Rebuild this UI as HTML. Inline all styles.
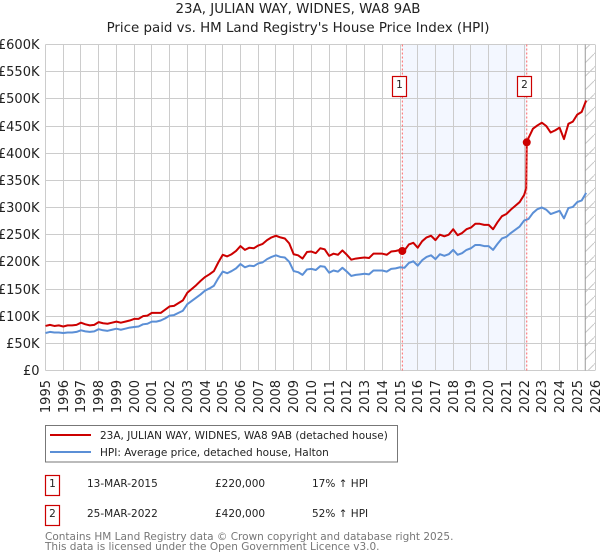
<!DOCTYPE html>
<html lang="en">
<head>
<meta charset="utf-8">
<title>23A, Julian Way, Widnes - Price paid vs HPI</title>
<style>
html,body{margin:0;padding:0;background:#fff;}
body{width:600px;height:560px;overflow:hidden;}
svg{display:block;font-family:"DejaVu Sans","Liberation Sans",sans-serif;}
</style>
</head>
<body>
<svg id="chart" xmlns="http://www.w3.org/2000/svg" width="600" height="560" viewBox="0 0 600 560">
  <defs>
    <pattern id="hatch" patternUnits="userSpaceOnUse" width="13.5" height="13.5">
      <line x1="0" y1="13.5" x2="13.5" y2="0" stroke="#c8c8c8" stroke-width="1"/>
    </pattern>
  </defs>
  <rect x="0" y="0" width="600" height="560" fill="#fff"/>
  <text x="298" y="13" text-anchor="middle" font-size="13.4" fill="#222">23A, JULIAN WAY, WIDNES, WA8 9AB</text>
  <text x="298" y="32" text-anchor="middle" font-size="13.4" fill="#222">Price paid vs. HM Land Registry's House Price Index (HPI)</text>
  <g id="bands"></g>
  <g id="grid"></g>
  <g id="series"></g>
  <g id="labels"></g>
  <g id="markers"></g>

  <g>
    <rect x="45.5" y="425.5" width="352" height="36.5" fill="#fff" stroke="#777" stroke-width="1"/>
    <line x1="50" y1="435" x2="91" y2="435" stroke="#cc0000" stroke-width="2"/>
    <text x="100" y="439" font-size="10.5" fill="#222">23A, JULIAN WAY, WIDNES, WA8 9AB (detached house)</text>
    <line x1="50" y1="452" x2="91" y2="452" stroke="#5b8fd6" stroke-width="2"/>
    <text x="100" y="456" font-size="10.5" fill="#222">HPI: Average price, detached house, Halton</text>
  </g>

  <g font-size="10.5" fill="#222">
    <rect x="45.5" y="475.5" width="14" height="20" fill="#fff" stroke="#cc0000" stroke-width="1.2"/>
    <text x="52.5" y="487" text-anchor="middle">1</text>
    <text x="87" y="487">13-MAR-2015</text>
    <text x="215" y="487">£220,000</text>
    <text x="312" y="487">17% ↑ HPI</text>
  </g>
  <g font-size="10.5" fill="#222">
    <rect x="45.5" y="505.5" width="14" height="20" fill="#fff" stroke="#cc0000" stroke-width="1.2"/>
    <text x="52.5" y="517" text-anchor="middle">2</text>
    <text x="87" y="517">25-MAR-2022</text>
    <text x="215" y="517">£420,000</text>
    <text x="312" y="517">52% ↑ HPI</text>
  </g>
  <text x="45" y="540" font-size="10.5" fill="#777">Contains HM Land Registry data © Crown copyright and database right 2025.</text>
  <text x="45" y="550" font-size="10.5" fill="#777">This data is licensed under the Open Government Licence v3.0.</text>
</svg>
<script>
// Chart data: values in thousands of pounds, one per quarter from 1995 Q1.
const startYear = 1995;
const pointsPerYear = 4;
const hpiValues = [
  69,71,70,70, 69,70,70,71, 74,72,71,72, 76,74,73,75, 77,75,77,79,
  80,81,85,86, 90,90,92,96, 101,102,106,110, 122,128,134,140, 147,151,156,170,
  182,179,183,188, 196,190,193,192, 197,199,205,209, 212,209,208,200, 183,181,176,186,
  187,185,192,191, 180,184,182,189, 182,174,176,177, 178,177,184,184, 184,182,187,188,
  190,189,198,201, 193,203,209,212, 205,214,211,214, 222,213,216,222, 225,231,231,229,
  229,222,233,243, 246,253,259,265, 276,279,290,297, 300,296,288,291, 294,280,299,301,
  310,313,327
];
const priceValues = [
  82,84,82,83, 81,83,83,84, 88,85,83,84, 89,87,86,88, 90,88,90,92,
  95,95,100,101, 106,106,106,112, 118,119,124,129, 143,150,157,165, 172,177,183,199,
  213,210,214,220, 229,222,226,225, 230,233,240,245, 248,245,243,234, 214,212,206,218,
  219,216,225,223, 211,215,213,221, 213,204,206,207, 208,207,215,215, 215,213,219,220,
  222,221,232,235, 226,238,245,248, 240,250,247,250, 260,249,253,260, 263,270,270,268,
  268,260,273,284, 288,296,303,310, 323,428,445,451, 456,450,438,442, 447,426,454,458,
  471,476,497
];
// Extra readings around the 2022 jump, where the line is almost vertical.
const priceJumpYears = [2022.12, 2022.15];
const priceJumpValues = [335, 420];
const yTicks = [0,50,100,150,200,250,300,350,400,450,500,550,600];
const xTickYears = [1995,1996,1997,1998,1999,2000,2001,2002,2003,2004,2005,2006,2007,2008,2009,2010,2011,2012,2013,2014,2015,2016,2017,2018,2019,2020,2021,2022,2023,2024,2025,2026];
const saleYears = [2015.13, 2022.15];
const salePrices = [220, 420];
const saleLabels = ["1", "2"];
const dataEndYear = 2025.45;

const NS = "http://www.w3.org/2000/svg";
const plot = { left: 45.5, right: 595, top: 44.5, bottom: 370.5 };
function xScale(year) {
  return plot.left + (year - 1995) * (plot.right - plot.left) / 31;
}
function yScale(value) {
  return plot.bottom - value * (plot.bottom - plot.top) / 600;
}
function make(tag, attrs, parent) {
  const el = document.createElementNS(NS, tag);
  for (const k in attrs) el.setAttribute(k, attrs[k]);
  parent.appendChild(el);
  return el;
}
const bands = document.getElementById("bands");
const grid = document.getElementById("grid");
const series = document.getElementById("series");
const labels = document.getElementById("labels");
const markers = document.getElementById("markers");

// Period between the two sales
const band = make("rect", { x: xScale(saleYears[0]), y: plot.top, width: xScale(saleYears[1]) - xScale(saleYears[0]), height: plot.bottom - plot.top, fill: "#f3f7ff" }, bands);



// Grid lines and tick labels
yTicks.forEach(function (v) {
  const y = Math.round(yScale(v) - 0.5) + 0.5;
  const line = make("line", { x1: plot.left, x2: plot.right, y1: y, y2: y, stroke: "#cccccc", "stroke-width": 1 }, grid);
  
  
  const text = make("text", { x: 39.5, y: y + 4.5, "text-anchor": "end", "font-size": 13, fill: "#222" }, labels);
  
  
  text.textContent = v === 0 ? "£0" : "£" + v + "K";
});
xTickYears.forEach(function (yr) {
  const x = Math.round(xScale(yr) - 0.5) + 0.5;
  const line = make("line", { x1: x, x2: x, y1: plot.top, y2: plot.bottom, stroke: "#cccccc", "stroke-width": 1 }, grid);
  
  
  const text = make("text", { transform: "translate(" + (x + 4.5) + ",380) rotate(-90)", "text-anchor": "end", "font-size": 13, fill: "#222" }, labels);
  
  
  text.textContent = yr;
});

// Area after the last data point
const hatch = make("rect", { x: xScale(dataEndYear), y: plot.top, width: plot.right - xScale(dataEndYear), height: plot.bottom - plot.top, fill: "url(#hatch)" }, bands);


const endLine = make("line", { x1: xScale(dataEndYear), x2: xScale(dataEndYear), y1: plot.top, y2: plot.bottom, stroke: "#999", "stroke-width": 1 }, grid);



// Series
function pairsFor(values) {
  return values.map(function (v, i) {
    return [startYear + i / pointsPerYear, v];
  });
}
function pointsFor(pairs) {
  return pairs.map(function (p) {
    return xScale(p[0]).toFixed(2) + "," + yScale(p[1]).toFixed(2);
  }).join(" ");
}
const pricePairs = pairsFor(priceValues).concat(priceJumpYears.map(function (yr, i) {
  return [yr, priceJumpValues[i]];
})).sort(function (a, b) { return a[0] - b[0]; });

const hpiLine = make("polyline", { points: pointsFor(pairsFor(hpiValues)), fill: "none", stroke: "#5b8fd6", "stroke-width": 2, "stroke-linejoin": "round" }, series);


const priceLine = make("polyline", { points: pointsFor(pricePairs), fill: "none", stroke: "#cc0000", "stroke-width": 2, "stroke-linejoin": "round" }, series);



// Sale markers
saleYears.forEach(function (yr, i) {
  const x = xScale(yr);
  const vline = make("line", { x1: x, x2: x, y1: plot.top, y2: plot.bottom, stroke: "#ff6666", "stroke-width": 1, "stroke-dasharray": "2,2" }, markers);
  
  
  const box = make("rect", { x: Math.round(x) - 9.5, y: 76.5, width: 14, height: 20, fill: "#fff", stroke: "#cc0000", "stroke-width": 1.2 }, markers);
  
  
  const num = make("text", { x: Math.round(x) - 2.5, y: 88, "text-anchor": "middle", "font-size": 10.5, fill: "#222" }, markers);
  
  
  num.textContent = saleLabels[i];
  const dot = make("circle", { cx: x, cy: yScale(salePrices[i]), r: 4, fill: "#cc0000" }, markers);
  
  
});
</script>
</body>
</html>
